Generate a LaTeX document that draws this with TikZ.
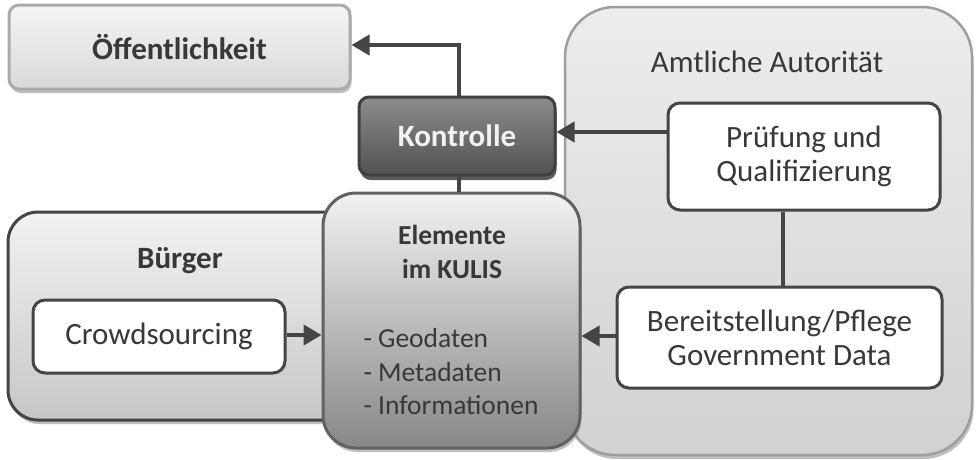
\documentclass[tikz,border=0pt]{standalone}
\usepackage{fontspec}
\setmainfont{Carlito}
\usetikzlibrary{arrows.meta,shadows,calc}
\definecolor{txt}{HTML}{383838}
\definecolor{ln}{HTML}{454545}
\tikzset{
  big/.style={font=\fontsize{31}{34}\selectfont, text=txt},
  mid/.style={font=\fontsize{27.5}{33.5}\selectfont, text=txt},
  sh/.style={drop shadow={shadow xshift=1.5pt,shadow yshift=-4pt,fill=black!45,opacity=.55}},
  box/.style={draw=ln, line width=3pt, rounded corners=#1, inner sep=0pt},
  whitebox/.style={box=12pt, fill=white, align=center, big},
  conn/.style={draw=ln, line width=4pt},
  arr/.style={conn, -{Triangle[length=18pt,width=20pt]}},
}
\begin{document}
\begin{tikzpicture}[x=1pt,y=-1pt]
\useasboundingbox (0,0) rectangle (976,459);
\fill[white] (0,0) rectangle (976,459);
% containers
\node[box=50pt, line width=2.5pt, draw=black!38, sh, top color=black!7, bottom color=black!18, minimum width=407pt, minimum height=448pt] (amt) at (768.5,231) {};
\node[big, anchor=base] (amtt) at (767,72) {Amtliche Autorität};
\node[box=10pt, draw=black!33, sh, top color=black!4, bottom color=black!15, minimum width=341pt, minimum height=84pt, big, font=\fontsize{31}{34}\selectfont\bfseries] (oef) at (179.5,47) {Öffentlichkeit};
\node[box=30pt, sh, top color=black!5, bottom color=black!22, minimum width=350pt, minimum height=208pt] (bur) at (183,316) {};
\node[big, font=\fontsize{31}{34}\selectfont\bfseries, anchor=base] (burt) at (180,268) {Bürger};
\node[whitebox, minimum width=252pt, minimum height=73pt] (crowd) at (159,336.5) {Crowdsourcing};
\node[box=33pt, draw=black!62, sh, top color=black!5, bottom color=black!47, minimum width=257pt, minimum height=255pt] (ele) at (451.5,320.5) {};
\node[mid, font=\fontsize{27.5}{34}\selectfont\bfseries, align=center, anchor=north] (elet) at (452,222) {Elemente\\im KULIS};
\node[mid, align=left, anchor=north west] (elel) at (360,325) {- Geodaten\\- Metadaten\\- Informationen};
\node[box=10pt, draw=black!75, drop shadow={shadow xshift=1.5pt,shadow yshift=-5pt,fill=black!80,opacity=.8}, top color=black!45, bottom color=black!68, minimum width=196pt, minimum height=78pt, font=\fontsize{31}{34}\selectfont\bfseries, text=black!5] (kon) at (457,136) {Kontrolle};
\node[whitebox, minimum width=272pt, minimum height=107pt] (pru) at (804,156.5) {Prüfung und\\Qualifizierung};
\node[whitebox, minimum width=325pt, minimum height=101pt] (ber) at (779.5,337.5) {Bereitstellung/Pflege\\Government Data};
% connectors
\draw[arr] (kon.north -| 459,0) |- (oef.east |- 0,45);
\draw[conn] (kon.south -| 459,0) -- (ele.north -| 459,0);
\draw[arr] (pru.west |- 0,132) -- (kon.east |- 0,132);
\draw[conn] (ber.north -| 783,0) -- (pru.south -| 783,0);
\draw[arr] (ber.west |- 0,336) -- (ele.east |- 0,336);
\draw[arr] (crowd.east |- 0,335) -- (ele.west |- 0,335);
\end{tikzpicture}
\end{document}
